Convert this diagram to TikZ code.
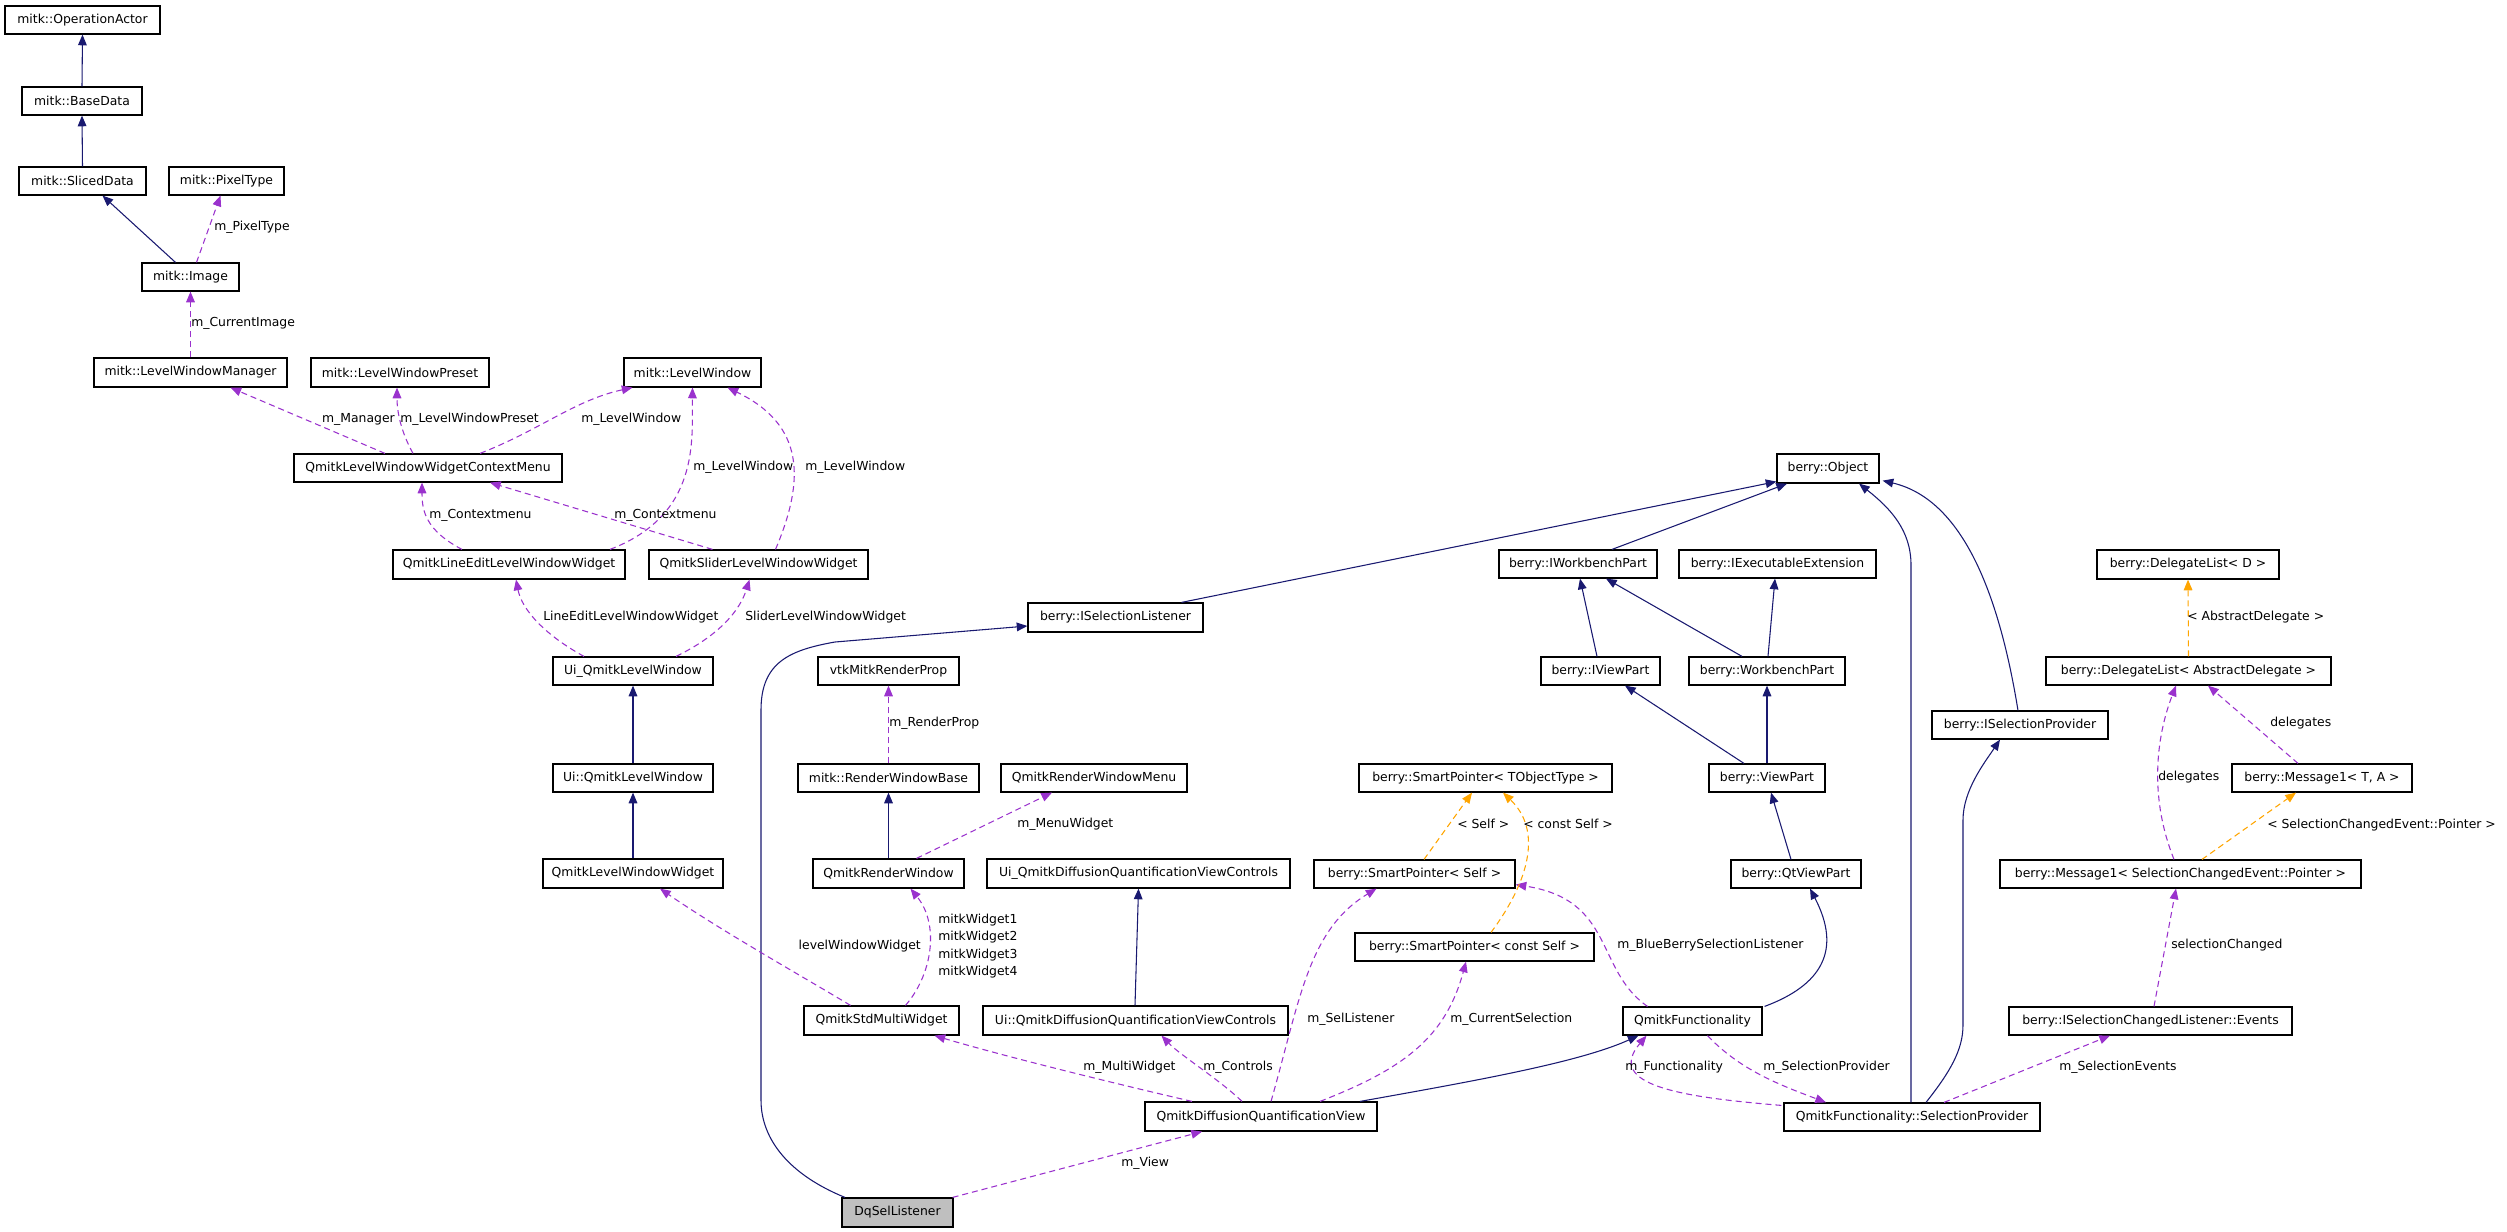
\documentclass[tikz,border=0pt]{standalone}
\usepackage{fontspec}
\setmainfont{DejaVu Sans}
\usetikzlibrary{arrows.meta,calc}
\definecolor{inhc}{RGB}{25,25,112}
\definecolor{usec}{RGB}{154,50,205}
\definecolor{tplc}{RGB}{255,165,0}
\newcommand\mybox[7][]{\node[cls,#1, minimum width={(#5-#3)*0.75pt}, minimum height={(#6-#4)*0.75pt}] (#2) at ({(#3+#5)/2},{(#4+#6)/2}) {#7};}
\tikzset{
  cls/.style={draw=black, fill=white, line width=0.9pt, inner sep=0pt, font=\fontsize{9.3}{11}\selectfont},
  inh/.style={draw=inhc, line width=0.8pt, -{Triangle[length=8pt,width=6.5pt]}},
  use/.style={draw=usec, line width=0.8pt, dash pattern=on 4.5pt off 3pt, -{Triangle[length=8pt,width=6.5pt]}},
  tpl/.style={draw=tplc, line width=0.8pt, dash pattern=on 4.5pt off 3pt, -{Triangle[length=8pt,width=6.5pt]}},
  lbl/.style={font=\fontsize{9.3}{11}\selectfont, inner sep=0pt, anchor=west},
}
\begin{document}
\begin{tikzpicture}[x=0.75pt,y=-0.75pt]
\useasboundingbox (0,0) rectangle (2507,1232);
% nodes
\mybox{oa}{5}{6}{160}{34}{mitk::OperationActor}
\mybox{bd}{22}{87}{142}{115}{mitk::BaseData}
\mybox{sd}{19}{167}{146}{195}{mitk::SlicedData}
\mybox{pt}{169}{167}{284}{195}{mitk::PixelType}
\mybox{img}{142}{263}{239}{291}{mitk::Image}
\mybox{lwm}{94}{358}{287}{387}{mitk::LevelWindowManager}
\mybox{lwp}{311}{358}{489}{387}{mitk::LevelWindowPreset}
\mybox{lw}{624}{358}{761}{387}{mitk::LevelWindow}
\mybox{cm}{294}{454}{562}{482}{QmitkLevelWindowWidgetContextMenu}
\mybox{le}{393}{550}{625}{579}{QmitkLineEditLevelWindowWidget}
\mybox{sl}{649}{550}{868}{579}{QmitkSliderLevelWindowWidget}
\mybox{uiu}{553}{657}{713}{685}{Ui\_QmitkLevelWindow}
\mybox{uic}{553}{764}{713}{792}{Ui::QmitkLevelWindow}
\mybox{lww}{543}{859}{723}{888}{QmitkLevelWindowWidget}
\mybox{qrw}{813}{859}{964}{888}{QmitkRenderWindow}
\mybox{vtk}{818}{657}{959}{685}{vtkMitkRenderProp}
\mybox{rwb}{798}{764}{979}{792}{mitk::RenderWindowBase}
\mybox{rwm}{1001}{764}{1187}{792}{QmitkRenderWindowMenu}
\mybox{udu}{987}{859}{1290}{888}{Ui\_QmitkDiffusionQuantificationViewControls}
\mybox{smw}{804}{1006}{959}{1035}{QmitkStdMultiWidget}
\mybox{udc}{983}{1006}{1288}{1035}{Ui::QmitkDiffusionQuantificationViewControls}
\mybox{dqv}{1145}{1102}{1377}{1131}{QmitkDiffusionQuantificationView}
\mybox[fill={rgb,255:red,191;green,191;blue,191}]{dqs}{842}{1198}{953}{1227}{DqSelListener}
\mybox{isl}{1028}{603}{1203}{632}{berry::ISelectionListener}
\mybox{obj}{1777}{454}{1879}{483}{berry::Object}
\mybox{iwp}{1499}{550}{1657}{578}{berry::IWorkbenchPart}
\mybox{iee}{1679}{550}{1876}{578}{berry::IExecutableExtension}
\mybox{ivp}{1541}{657}{1660}{685}{berry::IViewPart}
\mybox{wp}{1689}{657}{1845}{685}{berry::WorkbenchPart}
\mybox{vp}{1709}{764}{1825}{792}{berry::ViewPart}
\mybox{spt}{1359}{764}{1612}{792}{berry::SmartPointer< TObjectType >}
\mybox{sps}{1314}{860}{1515}{888}{berry::SmartPointer< Self >}
\mybox{spc}{1355}{933}{1594}{961}{berry::SmartPointer< const Self >}
\mybox{qtvp}{1731}{860}{1861}{888}{berry::QtViewPart}
\mybox{qf}{1623}{1007}{1762}{1035}{QmitkFunctionality}
\mybox{sp}{1784}{1103}{2040}{1131}{QmitkFunctionality::SelectionProvider}
\mybox{isp}{1932}{711}{2108}{739}{berry::ISelectionProvider}
\mybox{dld}{2097}{550}{2279}{579}{berry::DelegateList< D >}
\mybox{dlad}{2046}{657}{2331}{685}{berry::DelegateList< AbstractDelegate >}
\mybox{mta}{2232}{764}{2412}{792}{berry::Message1< T, A >}
\mybox{msc}{2000}{860}{2361}{888}{berry::Message1< SelectionChangedEvent::Pointer >}
\mybox{ev}{2009}{1007}{2292}{1035}{berry::ISelectionChangedListener::Events}

% inheritance edges
\draw[inh] (bd.north) -- (oa.south);
\draw[inh] (sd.north) -- (bd.south);
\draw[inh] ($(img.north)+(-15,0)$) -- ($(sd.south)+(20,0)$);
\draw[inh] (uic.north) -- (uiu.south);
\draw[inh] (lww.north) -- (uic.south);
\draw[inh] (qrw.north) -- (rwb.south);
\draw[inh] ($(udc.north)+(-0.5,0)$) -- ($(udu.south)+(0,0)$);
\draw[inh] ($(dqs.north)+(-52.5,0)$) .. controls (790,1175) and (761,1140) .. (761,1100) -- (761,710) .. controls (761,662) and (790,650) .. (835,642) -- ($(isl.west)+(0,8.5)$);
\draw[inh] ($(isl.north)+(66,0)$) -- ($(obj.south west)+(0,-2)$);
\draw[inh] ($(iwp.north)+(34,0)$) -- ($(obj.south)+(-41,0)$);
\draw[inh] ($(ivp.north)+(-3.5,0)$) -- ($(iwp.south)+(2,0)$);
\draw[inh] ($(wp.north)+(-25,0)$) -- ($(iwp.south)+(28,0)$);
\draw[inh] ($(wp.north)+(1,0)$) -- ($(iee.south)+(-2.5,0)$);
\draw[inh] ($(vp.north)+(-23,0)$) -- ($(ivp.south)+(24.5,0)$);
\draw[inh] (vp.north) -- (wp.south);
\draw[inh] ($(qtvp.north)+(-5,0)$) -- ($(vp.south)+(4,0)$);
\draw[inh] ($(qf.north east)+(2,0)$) .. controls (1822,985) and (1842,950) .. ($(qtvp.south)+(14,0)$);
\draw[inh] ($(dqv.north)+(99,0)$) .. controls (1480,1080) and (1580,1062) .. ($(qf.south)+(-54,0)$);
\draw[inh] ($(sp.north)+(-1,0)$) -- (1911,565) .. controls (1911,530) and (1890,508) .. ($(obj.south)+(31,0)$);
\draw[inh] ($(sp.north)+(14,0)$) .. controls (1950,1072) and (1963,1050) .. (1963,1025) -- (1963,820) .. controls (1963,790) and (1985,762) .. ($(isp.south)+(-20,0)$);
\draw[inh] ($(isp.north)+(-2,0)$) .. controls (2000,600) and (1965,500) .. ($(obj.south east)+(3,-3)$);

% usage edges
\draw[use] ($(img.north)+(6,0)$) -- ($(pt.south)+(-6,0)$);
\node[lbl] (l1) at (214,227) {m\_PixelType};
\draw[use] (lwm.north) -- (img.south);
\node[lbl] (l2) at (191,323) {m\_CurrentImage};
\draw[use] ($(cm.north)+(-43,0)$) -- ($(lwm.south)+(40,0)$);
\node[lbl, anchor=east] (l3) at (395,419) {m\_Manager};
\draw[use] ($(cm.north)+(-15,0)$) .. controls (400,430) and (397,410) .. ($(lwp.south)+(-3,0)$);
\node[lbl] (l4) at (400,419) {m\_LevelWindowPreset};
\draw[use] ($(cm.north)+(52,0)$) .. controls (540,430) and (575,400) .. ($(lw.south)+(-60,0)$);
\node[lbl] (l5) at (581,419) {m\_LevelWindow};
\draw[use] ($(le.north)+(101,0)$) .. controls (700,515) and (692,440) .. (lw.south);
\node[lbl] (l6) at (693,467) {m\_LevelWindow};
\draw[use] ($(sl.north)+(17,0)$) .. controls (805,480) and (805,425) .. ($(lw.south)+(35,0)$);
\node[lbl] (l7) at (805,467) {m\_LevelWindow};
\draw[use] ($(le.north)+(-47,0)$) .. controls (425,530) and (422,510) .. ($(cm.south)+(-6,0)$);
\node[lbl] (l8) at (429,515) {m\_Contextmenu};
\draw[use] ($(sl.north)+(-46,0)$) -- ($(cm.south)+(62,0)$);
\node[lbl] (l9) at (614,515) {m\_Contextmenu};
\draw[use] ($(uiu.north)+(-49,0)$) .. controls (545,635) and (522,610) .. ($(le.south)+(7,0)$);
\node[lbl] (l10) at (543,617) {LineEditLevelWindowWidget};
\draw[use] ($(uiu.north)+(43,0)$) .. controls (720,635) and (740,610) .. ($(sl.south)+(-9,0)$);
\node[lbl] (l11) at (745,617) {SliderLevelWindowWidget};
\draw[use] (rwb.north) -- (vtk.south);
\node[lbl] (l12) at (889,723) {m\_RenderProp};
\draw[use] ($(qrw.north)+(28,0)$) -- ($(rwm.south)+(-42,0)$);
\node[lbl] (l13) at (1017,824) {m\_MenuWidget};
\draw[use] ($(smw.north)+(24,0)$) .. controls (932,975) and (940,925) .. ($(qrw.south)+(22,0)$);
\node[lbl, align=left, font=\fontsize{9.3}{13.1}\selectfont] (l14) at (938,946) {mitkWidget1\\mitkWidget2\\mitkWidget3\\mitkWidget4};
\draw[use] ($(smw.north)+(-31,0)$) .. controls (800,975) and (720,930) .. ($(lww.south)+(27,0)$);
\node[lbl, anchor=east] (l15) at (921,946) {levelWindowWidget};
\draw[use] ($(dqv.north)+(-69,0)$) .. controls (1100,1080) and (1000,1055) .. ($(smw.south)+(53,0)$);
\node[lbl] (l16) at (1083,1067) {m\_MultiWidget};
\draw[use] ($(dqv.north)+(-19,0)$) .. controls (1220,1080) and (1180,1055) .. ($(udc.south)+(26,0)$);
\node[lbl] (l17) at (1203,1067) {m\_Controls};
\draw[use] ($(dqv.north)+(10,0)$) .. controls (1300,1000) and (1308,930) .. ($(sps.south)+(-38,0)$);
\node[lbl] (l18) at (1307,1019) {m\_SelListener};
\draw[use] ($(dqv.north)+(59,0)$) .. controls (1400,1070) and (1445,1040) .. ($(spc.south)+(-8.5,0)$);
\node[lbl] (l19) at (1450,1019) {m\_CurrentSelection};
\draw[use] ($(qf.north)+(-45,0)$) .. controls (1595,970) and (1615,900) .. ($(sps.south east)+(0,-4)$);
\node[lbl] (l20) at (1617,945) {m\_BlueBerrySelectionListener};
\draw[use] ($(sp.north west)+(-2,3)$) .. controls (1680,1097) and (1605,1085) .. ($(qf.south)+(-46,0)$);
\node[lbl] (l21) at (1625,1067) {m\_Functionality};
\draw[use] ($(qf.south)+(15,0)$) .. controls (1740,1070) and (1780,1085) .. ($(sp.north)+(-86,0)$);
\node[lbl] (l22) at (1763,1067) {m\_SelectionProvider};
\draw[use] ($(sp.north)+(32,0)$) -- ($(ev.south)+(-40.5,0)$);
\node[lbl] (l23) at (2059,1067) {m\_SelectionEvents};
\draw[use] ($(ev.north)+(3.5,0)$) -- ($(msc.south)+(-4.5,0)$);
\node[lbl] (l24) at (2171,945) {selectionChanged};
\draw[use] ($(msc.north)+(-6.5,0)$) .. controls (2150,800) and (2155,740) .. ($(dlad.south)+(-12.5,0)$);
\node[lbl] (l25) at (2158,777) {delegates};
\draw[use] ($(mta.north)+(-24,0)$) -- ($(dlad.south)+(19.5,0)$);
\node[lbl] (l26) at (2270,723) {delegates};
\draw[use] ($(dqs.north east)+(-1,0)$) -- ($(dqv.south)+(-59,0)$);
\node[lbl] (l27) at (1121,1163) {m\_View};

% template edges
\draw[tpl] ($(sps.north)+(9.5,0)$) -- ($(spt.south)+(-13.5,0)$);
\node[lbl] (l28) at (1457,824) {< Self >};
\draw[tpl] ($(spc.north)+(16.5,0)$) .. controls (1530,880) and (1542,830) .. ($(spt.south)+(17.5,0)$);
\node[lbl] (l29) at (1523,824) {< const Self >};
\draw[tpl] (dlad.north) -- (dld.south);
\node[lbl] (l30) at (2187,617) {< AbstractDelegate >};
\draw[tpl] ($(msc.north)+(21.5,0)$) -- ($(mta.south)+(-26,0)$);
\node[lbl] (l31) at (2267,825) {< SelectionChangedEvent::Pointer >};
\end{tikzpicture}
\end{document}
